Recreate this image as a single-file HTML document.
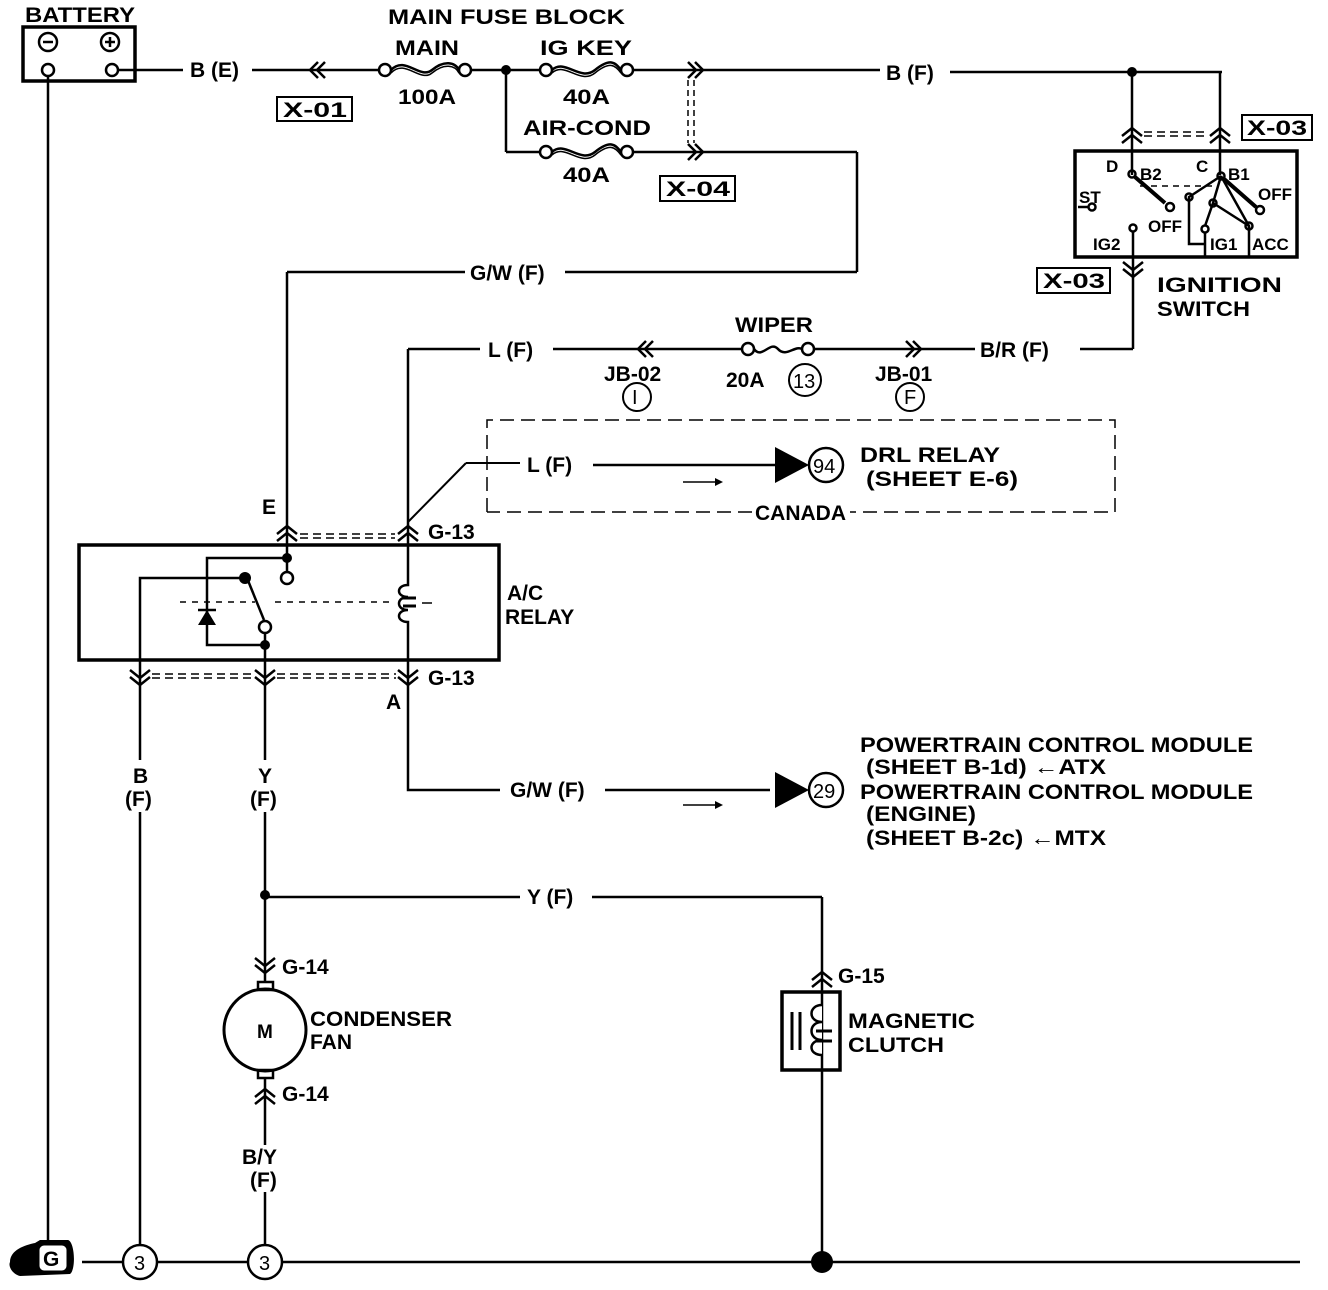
<!DOCTYPE html>
<html><head><meta charset="utf-8"><style>
html,body{margin:0;padding:0;background:#fff;}
svg{display:block;}
text{font-family:"Liberation Sans",sans-serif;font-size:21px;fill:#000;font-weight:bold;}
.s{font-size:17px;}
.c{font-size:20px;font-weight:normal;}
</style></head><body>
<svg width="1328" height="1290" viewBox="0 0 1328 1290" xmlns="http://www.w3.org/2000/svg">
<g fill="none" stroke="#000" stroke-width="2.5">
<rect x="23" y="27" width="112" height="54" stroke-width="3.5"/>
<circle cx="48" cy="42" r="9"/><line x1="43" y1="42" x2="53" y2="42"/>
<circle cx="110" cy="42" r="9"/><line x1="105" y1="42" x2="115" y2="42"/><line x1="110" y1="37" x2="110" y2="47"/>
<circle cx="48" cy="70" r="6"/><circle cx="112" cy="70" r="6"/>
<line x1="48" y1="76" x2="48" y2="1240"/>
<line x1="118" y1="70" x2="183" y2="70"/>
<line x1="252" y1="70" x2="380" y2="70"/>
<path d="M318,62 L310,70 L318,78 M325,62 L317,70 L325,78"/>
<circle cx="385" cy="70" r="6"/><circle cx="465" cy="70" r="6"/>
<path d="M391,70 C405,55 420,80 432,70 S455,62 459,70"/>
<path d="M391,73 C405,58 420,83 432,73 S455,65 459,73" stroke-width="1.5"/>
<line x1="471" y1="70" x2="540" y2="70"/>
<circle cx="546" cy="70" r="6"/><circle cx="627" cy="70" r="6"/>
<path d="M552,70 C565,58 580,82 595,70 S615,62 621,70"/>
<path d="M552,73 C565,61 580,85 595,73 S615,65 621,73" stroke-width="1.5"/>
<line x1="633" y1="70" x2="880" y2="70"/>
<path d="M688,62 L696,70 L688,78 M695,62 L703,70 L695,78"/>
<line x1="688" y1="80" x2="688" y2="143" stroke-dasharray="6,4" stroke-width="1.5"/>
<line x1="694" y1="80" x2="694" y2="143" stroke-dasharray="6,4" stroke-width="1.5"/>
<line x1="950" y1="72" x2="1222" y2="72"/>
<line x1="506" y1="70" x2="506" y2="152"/>
<line x1="506" y1="152" x2="540" y2="152"/>
<circle cx="546" cy="152" r="6"/><circle cx="627" cy="152" r="6"/>
<path d="M552,152 C565,140 580,164 595,152 S615,144 621,152"/>
<path d="M552,155 C565,143 580,167 595,155 S615,147 621,155" stroke-width="1.5"/>
<line x1="633" y1="152" x2="857" y2="152"/>
<path d="M688,144 L696,152 L688,160 M695,144 L703,152 L695,160"/>
<line x1="857" y1="152" x2="857" y2="272"/>
<line x1="857" y1="272" x2="565" y2="272"/>
<line x1="465" y1="272" x2="287" y2="272"/>
<line x1="287" y1="272" x2="287" y2="492"/>
<line x1="1132" y1="72" x2="1132" y2="175"/>
<line x1="1220" y1="72" x2="1220" y2="175"/>
<path d="M1122,136 L1132,128 L1142,136 M1122,143 L1132,135 L1142,143"/>
<path d="M1210,136 L1220,128 L1230,136 M1210,143 L1220,135 L1230,143"/>
<line x1="1144" y1="132" x2="1208" y2="132" stroke-dasharray="8,5" stroke-width="1.5"/>
<line x1="1144" y1="136" x2="1208" y2="136" stroke-dasharray="8,5" stroke-width="1.5"/>
<rect x="1075" y="151" width="222" height="106" stroke-width="3.5"/>
<line x1="1140" y1="186" x2="1215" y2="186" stroke-dasharray="6,5" stroke-width="1.5"/>
<circle cx="1132" cy="174" r="3.5"/><circle cx="1221" cy="176" r="3.5"/>
<line x1="1135" y1="177" x2="1165" y2="203" stroke-width="4"/>
<circle cx="1170" cy="207" r="4"/>
<line x1="1223" y1="178" x2="1256" y2="207" stroke-width="4"/>
<circle cx="1260" cy="210" r="4"/>
<circle cx="1092" cy="207" r="3.5"/><line x1="1078" y1="207" x2="1088" y2="207"/>
<circle cx="1133" cy="228" r="3.5"/><line x1="1133" y1="232" x2="1133" y2="349"/>
<circle cx="1189" cy="197" r="3.5"/><circle cx="1213" cy="203" r="3.5"/>
<circle cx="1205" cy="229" r="3.5"/><circle cx="1249" cy="226" r="3.5"/>
<path d="M1221,176 L1189,197 L1189,244 L1205,244 L1205,232 M1205,226 L1213,203 L1221,176 M1213,203 L1249,226 M1221,176 L1249,226 L1249,257 M1205,244 L1205,257"/>
<path d="M1123,262 L1133,270 L1143,262 M1123,269 L1133,277 L1143,269"/>
<line x1="1133" y1="349" x2="1080" y2="349"/>
<line x1="975" y1="349" x2="814" y2="349"/>
<path d="M906,341 L914,349 L906,357 M913,341 L921,349 L913,357"/>
<circle cx="808" cy="349" r="6"/><circle cx="748" cy="349" r="6"/>
<path d="M754,349 C762,360 770,340 778,349 S795,345 802,349"/>
<line x1="742" y1="349" x2="553" y2="349"/>
<path d="M646,341 L638,349 L646,357 M653,341 L645,349 L653,357"/>
<line x1="480" y1="349" x2="408" y2="349"/>
<line x1="408" y1="349" x2="408" y2="578"/>
<circle cx="805" cy="380" r="16" stroke-width="2"/>
<circle cx="637" cy="397" r="14" stroke-width="2"/>
<circle cx="910" cy="397" r="14" stroke-width="2"/>
<path d="M487,512 L487,420 L1115,420 L1115,512 L850,512 M752,512 L487,512" stroke-dasharray="14,7" stroke-width="1.5"/>
<line x1="408" y1="522" x2="466" y2="463" stroke-width="2"/>
<line x1="466" y1="463" x2="520" y2="463" stroke-width="2"/>
<line x1="593" y1="465" x2="775" y2="465"/>
<line x1="683" y1="482" x2="715" y2="482" stroke-width="1.5"/>
<circle cx="826" cy="465" r="17"/>
<path d="M277,534 L287,526 L297,534 M277,541 L287,533 L297,541"/>
<path d="M398,534 L408,526 L418,534 M398,541 L408,533 L418,541"/>
<line x1="300" y1="534" x2="395" y2="534" stroke-dasharray="8,5" stroke-width="1.5"/>
<line x1="300" y1="538" x2="395" y2="538" stroke-dasharray="8,5" stroke-width="1.5"/>
<rect x="79" y="545" width="420" height="115" stroke-width="3.5"/>
<line x1="287" y1="492" x2="287" y2="572"/>
<circle cx="287" cy="578" r="6"/>
<path d="M287,558 L207,558 L207,645 L265,645"/>
<path d="M140,1245 L140,812 M140,760 L140,578 L245,578"/>
<line x1="247" y1="578" x2="264" y2="620"/>
<circle cx="265" cy="627" r="6"/>
<line x1="265" y1="633" x2="265" y2="760"/>
<line x1="180" y1="602" x2="255" y2="602" stroke-dasharray="6,6" stroke-width="1.5"/>
<line x1="275" y1="602" x2="395" y2="602" stroke-dasharray="6,6" stroke-width="1.5"/>
<path d="M408,578 L408,585 C396,585 396,597 408,597 C396,597 396,610 408,610 C396,610 396,622 408,622 L408,790 L500,790"/>
<line x1="403" y1="598" x2="416" y2="598" stroke-width="3"/>
<line x1="403" y1="606" x2="416" y2="606" stroke-width="3"/>
<line x1="422" y1="603" x2="432" y2="603" stroke-width="1.5"/>
<line x1="605" y1="790" x2="770" y2="790"/>
<line x1="683" y1="805" x2="715" y2="805" stroke-width="1.5"/>
<circle cx="826" cy="790" r="17"/>
<path d="M130,670 L140,678 L150,670 M130,677 L140,685 L150,677"/>
<path d="M255,670 L265,678 L275,670 M255,677 L265,685 L275,677"/>
<path d="M398,670 L408,678 L418,670 M398,677 L408,685 L418,677"/>
<line x1="152" y1="674" x2="253" y2="674" stroke-dasharray="8,5" stroke-width="1.5"/>
<line x1="152" y1="678" x2="253" y2="678" stroke-dasharray="8,5" stroke-width="1.5"/>
<line x1="277" y1="674" x2="396" y2="674" stroke-dasharray="8,5" stroke-width="1.5"/>
<line x1="277" y1="678" x2="396" y2="678" stroke-dasharray="8,5" stroke-width="1.5"/>
<line x1="265" y1="812" x2="265" y2="982"/>
<line x1="265" y1="897" x2="520" y2="897"/>
<line x1="592" y1="897" x2="822" y2="897"/>
<line x1="822" y1="897" x2="822" y2="1262"/>
<path d="M812,980 L822,972 L832,980 M812,987 L822,979 L832,987"/>
<rect x="782" y="992" width="58" height="78" stroke-width="3.5"/>
<path d="M822,1005 C808,1005 808,1022 822,1022 C808,1022 808,1040 822,1040 C808,1040 808,1055 822,1055" fill="#fff"/>
<line x1="816" y1="1031" x2="832" y2="1031" stroke-width="3"/>
<line x1="816" y1="1041" x2="832" y2="1041" stroke-width="3"/>
<line x1="792" y1="1012" x2="792" y2="1050" stroke-width="3"/>
<line x1="800" y1="1012" x2="800" y2="1050" stroke-width="3"/>
<path d="M255,958 L265,966 L275,958 M255,965 L265,973 L275,965"/>
<rect x="258" y="982" width="15" height="8"/>
<circle cx="265" cy="1030" r="41" stroke-width="3"/>
<rect x="258" y="1070" width="15" height="8"/>
<path d="M255,1097 L265,1089 L275,1097 M255,1104 L265,1096 L275,1104"/>
<line x1="265" y1="1078" x2="265" y2="1145"/>
<line x1="265" y1="1192" x2="265" y2="1245"/>
<line x1="82" y1="1262" x2="123" y2="1262"/>
<line x1="157" y1="1262" x2="248" y2="1262"/>
<line x1="282" y1="1262" x2="1300" y2="1262"/>
<circle cx="140" cy="1262" r="17"/>
<circle cx="265" cy="1262" r="17"/>
</g>
<g fill="#000">
<circle cx="506" cy="70" r="5"/>
<circle cx="1132" cy="72" r="5"/>
<circle cx="287" cy="558" r="5"/>
<circle cx="245" cy="578" r="6"/>
<circle cx="265" cy="645" r="5"/>
<circle cx="265" cy="895" r="5"/>
<circle cx="822" cy="1262" r="11"/>
<polygon points="775,447 809,465 775,483"/>
<polygon points="775,772 809,790 775,808"/>
<polygon points="198,625 216,625 207,610"/>
<line x1="198" y1="610" x2="216" y2="610" stroke="#000" stroke-width="2.5"/>
<polygon points="715,478 723,482 715,486"/>
<polygon points="715,801 723,805 715,809"/>
<path d="M10,1262 C10,1250 25,1245 35,1243 L40,1240 L68,1240 C75,1242 76,1270 70,1274 L20,1276 C12,1274 8,1266 10,1262 Z"/>
</g>
<rect x="38" y="1244" width="30" height="28" rx="6" fill="#fff" stroke="#000" stroke-width="3"/>
<text x="43" y="1266" font-size="24">G</text>
<g>
<text x="25" y="22" textLength="110" lengthAdjust="spacingAndGlyphs">BATTERY</text>
<text x="190" y="77">B (E)</text>
<rect x="277" y="97" width="75" height="24" fill="none" stroke="#000" stroke-width="2"/>
<text x="283" y="117" textLength="64" lengthAdjust="spacingAndGlyphs" font-weight="normal">X-01</text>
<text x="388" y="24" textLength="237" lengthAdjust="spacingAndGlyphs">MAIN FUSE BLOCK</text>
<text x="395" y="55" textLength="64" lengthAdjust="spacingAndGlyphs">MAIN</text>
<text x="398" y="104" textLength="58" lengthAdjust="spacingAndGlyphs">100A</text>
<text x="540" y="55" textLength="92" lengthAdjust="spacingAndGlyphs">IG KEY</text>
<text x="563" y="104" textLength="47" lengthAdjust="spacingAndGlyphs">40A</text>
<text x="523" y="135" textLength="128" lengthAdjust="spacingAndGlyphs">AIR-COND</text>
<text x="563" y="182" textLength="47" lengthAdjust="spacingAndGlyphs">40A</text>
<rect x="660" y="176" width="75" height="25" fill="none" stroke="#000" stroke-width="2"/>
<text x="666" y="196" textLength="64" lengthAdjust="spacingAndGlyphs" font-weight="normal">X-04</text>
<text x="886" y="80">B (F)</text>
<text x="470" y="280">G/W (F)</text>
<rect x="1242" y="115" width="70" height="25" fill="none" stroke="#000" stroke-width="2"/>
<text x="1247" y="135" textLength="60" lengthAdjust="spacingAndGlyphs" font-weight="normal">X-03</text>
<rect x="1037" y="268" width="73" height="25" fill="none" stroke="#000" stroke-width="2"/>
<text x="1043" y="288" textLength="62" lengthAdjust="spacingAndGlyphs" font-weight="normal">X-03</text>
<text x="1106" y="172" class="s">D</text>
<text x="1140" y="180" class="s">B2</text>
<text x="1196" y="172" class="s">C</text>
<text x="1228" y="180" class="s">B1</text>
<text x="1079" y="203" class="s">ST</text>
<text x="1148" y="232" class="s">OFF</text>
<text x="1258" y="200" class="s">OFF</text>
<text x="1093" y="250" class="s">IG2</text>
<text x="1210" y="250" class="s">IG1</text>
<text x="1252" y="250" class="s">ACC</text>
<text x="1157" y="292" textLength="125" lengthAdjust="spacingAndGlyphs">IGNITION</text>
<text x="1157" y="316" textLength="93" lengthAdjust="spacingAndGlyphs">SWITCH</text>
<text x="980" y="357">B/R (F)</text>
<text x="735" y="332" textLength="78" lengthAdjust="spacingAndGlyphs">WIPER</text>
<text x="726" y="387">20A</text>
<text x="793" y="388" class="c">13</text>
<text x="875" y="381">JB-01</text>
<text x="604" y="381">JB-02</text>
<text x="632" y="404" class="c">I</text>
<text x="904" y="404" class="c">F</text>
<text x="488" y="357">L (F)</text>
<text x="527" y="472">L (F)</text>
<text x="813" y="473" class="c">94</text>
<text x="860" y="462" textLength="140" lengthAdjust="spacingAndGlyphs">DRL RELAY</text>
<text x="866" y="486" textLength="152" lengthAdjust="spacingAndGlyphs">(SHEET E-6)</text>
<text x="755" y="520">CANADA</text>
<text x="262" y="514">E</text>
<text x="428" y="539">G-13</text>
<text x="428" y="685">G-13</text>
<text x="386" y="709">A</text>
<text x="507" y="600">A/C</text>
<text x="505" y="624">RELAY</text>
<text x="510" y="797">G/W (F)</text>
<text x="813" y="798" class="c">29</text>
<text x="860" y="752" textLength="393" lengthAdjust="spacingAndGlyphs">POWERTRAIN CONTROL MODULE</text>
<text x="866" y="774" textLength="240" lengthAdjust="spacingAndGlyphs">(SHEET B-1d) ←ATX</text>
<text x="860" y="799" textLength="393" lengthAdjust="spacingAndGlyphs">POWERTRAIN CONTROL MODULE</text>
<text x="866" y="821" textLength="110" lengthAdjust="spacingAndGlyphs">(ENGINE)</text>
<text x="866" y="845" textLength="240" lengthAdjust="spacingAndGlyphs">(SHEET B-2c) ←MTX</text>
<text x="133" y="783">B</text>
<text x="125" y="806">(F)</text>
<text x="258" y="783">Y</text>
<text x="250" y="806">(F)</text>
<text x="527" y="904">Y (F)</text>
<text x="282" y="974">G-14</text>
<text x="282" y="1101">G-14</text>
<text x="838" y="983">G-15</text>
<text x="257" y="1038" style="font-size:19px">M</text>
<text x="310" y="1026" textLength="142" lengthAdjust="spacingAndGlyphs">CONDENSER</text>
<text x="310" y="1049">FAN</text>
<text x="848" y="1028" textLength="127" lengthAdjust="spacingAndGlyphs">MAGNETIC</text>
<text x="848" y="1052" textLength="96" lengthAdjust="spacingAndGlyphs">CLUTCH</text>
<text x="242" y="1164">B/Y</text>
<text x="250" y="1187">(F)</text>
<text x="134" y="1270" class="c">3</text>
<text x="259" y="1270" class="c">3</text>
</g>
</svg>
</body></html>
